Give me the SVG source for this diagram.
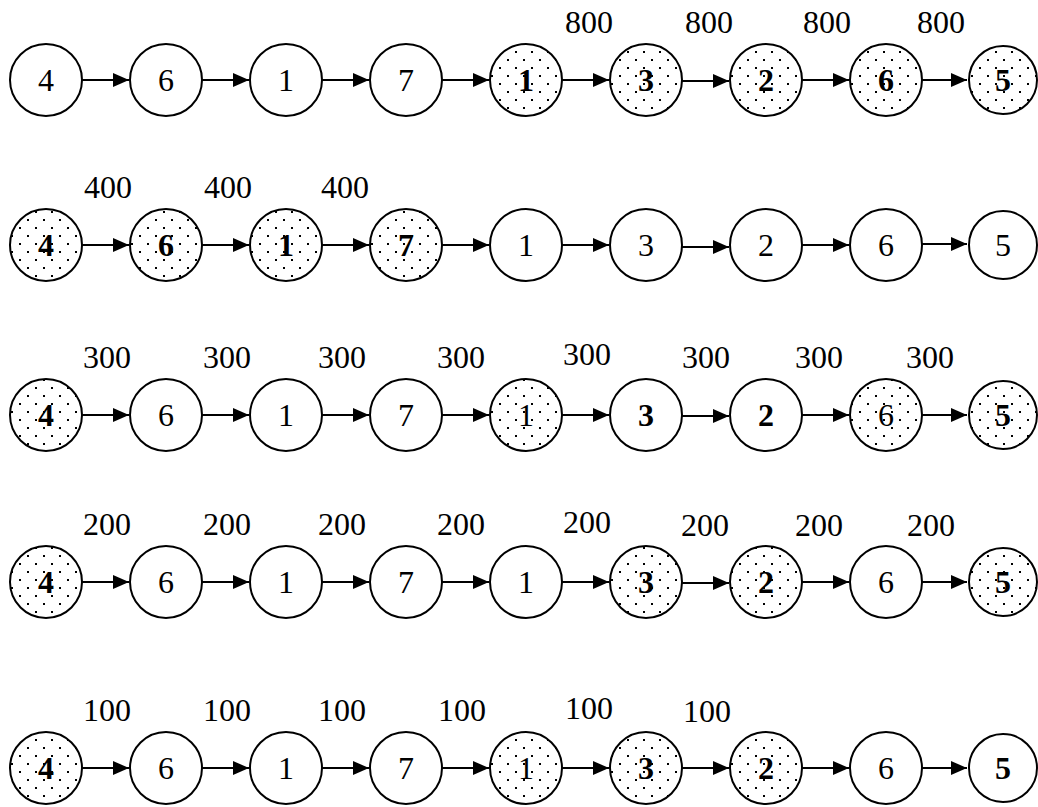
<svg xmlns="http://www.w3.org/2000/svg" width="1038" height="807" viewBox="0 0 1038 807">
<style>
.p{fill:#fff;stroke:#000;stroke-width:2}
.d{fill:url(#dots);stroke:#000;stroke-width:2}
text{font-family:"Liberation Serif","Times New Roman",serif;font-size:32px;text-anchor:middle;fill:#000}
.b{font-weight:bold}
.e{stroke:#000;stroke-width:2.2;fill:none;marker-end:url(#ah)}
</style>
<defs>
<pattern id="dots" patternUnits="userSpaceOnUse" width="16" height="16">
<rect width="16" height="16" fill="#fff"/>
<rect x="3" y="3" width="2" height="2" fill="#000"/>
<rect x="11" y="11" width="2" height="2" fill="#000"/>
</pattern>
<marker id="ah" markerUnits="userSpaceOnUse" markerWidth="18" markerHeight="16" refX="16" refY="7" orient="auto">
<path d="M0,0 L16,7 L0,14 Z" fill="#000"/>
</marker>
</defs>
<g id="labels">
<text x="589" y="33">800</text><text x="709" y="33">800</text><text x="827" y="33">800</text><text x="941" y="33">800</text>
<text x="108" y="198">400</text><text x="228" y="198">400</text><text x="345" y="198">400</text>
<text x="107" y="368">300</text><text x="227" y="368">300</text><text x="342" y="368">300</text><text x="461" y="368">300</text><text x="587" y="365">300</text><text x="706" y="368">300</text><text x="819" y="368">300</text><text x="930" y="368">300</text>
<text x="107" y="535">200</text><text x="227" y="535">200</text><text x="342" y="535">200</text><text x="461" y="535">200</text><text x="587" y="533">200</text><text x="705" y="536">200</text><text x="819" y="536">200</text><text x="931" y="536">200</text>
<text x="107" y="721">100</text><text x="227" y="721">100</text><text x="342" y="721">100</text><text x="462" y="721">100</text><text x="589" y="719">100</text><text x="707" y="722">100</text>
</g>
<g id="connectors">
<path class="e" d="M82,80H129"/><path class="e" d="M202,80H249"/><path class="e" d="M322,80H369"/><path class="e" d="M442,80H489"/><path class="e" d="M562,80H609"/><path class="e" d="M682,81H729"/><path class="e" d="M802,80H849"/><path class="e" d="M922,80H967"/>
<path class="e" d="M82,245H129"/><path class="e" d="M202,245H249"/><path class="e" d="M322,245H369"/><path class="e" d="M442,245H489"/><path class="e" d="M562,245H609"/><path class="e" d="M682,247H729"/><path class="e" d="M802,245H849"/><path class="e" d="M922,244H967"/>
<path class="e" d="M82,415H129"/><path class="e" d="M202,415H249"/><path class="e" d="M322,415H369"/><path class="e" d="M442,415H489"/><path class="e" d="M562,415H609"/><path class="e" d="M682,416H729"/><path class="e" d="M802,415H849"/><path class="e" d="M922,415H967"/>
<path class="e" d="M82,582H129"/><path class="e" d="M202,582H249"/><path class="e" d="M322,582H369"/><path class="e" d="M442,582H489"/><path class="e" d="M562,582H609"/><path class="e" d="M682,583H729"/><path class="e" d="M802,582H849"/><path class="e" d="M922,582H967"/>
<path class="e" d="M82,768H129"/><path class="e" d="M202,768H249"/><path class="e" d="M322,768H369"/><path class="e" d="M442,768H489"/><path class="e" d="M562,768H609"/><path class="e" d="M682,768H729"/><path class="e" d="M802,768H849"/><path class="e" d="M922,768H967"/>
</g>
<g id="r1n1"><circle class="p" cx="46" cy="80" r="36"/><text x="46" y="91">4</text></g>
<g id="r1n2"><circle class="p" cx="166" cy="80" r="36"/><text x="166" y="91">6</text></g>
<g id="r1n3"><circle class="p" cx="286" cy="80" r="36"/><text x="286" y="91">1</text></g>
<g id="r1n4"><circle class="p" cx="406" cy="80" r="36"/><text x="406" y="91">7</text></g>
<g id="r1n5"><circle class="d" cx="526" cy="80" r="36"/><text class="b" x="526" y="91">1</text></g>
<g id="r1n6"><circle class="d" cx="646" cy="80" r="36"/><text class="b" x="646" y="91">3</text></g>
<g id="r1n7"><circle class="d" cx="766" cy="80" r="36"/><text class="b" x="766" y="91">2</text></g>
<g id="r1n8"><circle class="d" cx="886" cy="80" r="36"/><text class="b" x="886" y="91">6</text></g>
<g id="r1n9"><circle class="d" cx="1003" cy="80" r="34"/><text class="b" x="1003" y="91">5</text></g>
<g id="r2n1"><circle class="d" cx="46" cy="245" r="36"/><text class="b" x="46" y="256">4</text></g>
<g id="r2n2"><circle class="d" cx="166" cy="245" r="36"/><text class="b" x="166" y="256">6</text></g>
<g id="r2n3"><circle class="d" cx="286" cy="245" r="36"/><text class="b" x="286" y="256">1</text></g>
<g id="r2n4"><circle class="d" cx="406" cy="245" r="36"/><text class="b" x="406" y="256">7</text></g>
<g id="r2n5"><circle class="p" cx="526" cy="245" r="36"/><text x="526" y="256">1</text></g>
<g id="r2n6"><circle class="p" cx="646" cy="245" r="36"/><text x="646" y="256">3</text></g>
<g id="r2n7"><circle class="p" cx="766" cy="245" r="36"/><text x="766" y="256">2</text></g>
<g id="r2n8"><circle class="p" cx="886" cy="245" r="36"/><text x="886" y="256">6</text></g>
<g id="r2n9"><circle class="p" cx="1003" cy="245" r="34"/><text x="1003" y="256">5</text></g>
<g id="r3n1"><circle class="d" cx="46" cy="415" r="36"/><text class="b" x="46" y="426">4</text></g>
<g id="r3n2"><circle class="p" cx="166" cy="415" r="36"/><text x="166" y="426">6</text></g>
<g id="r3n3"><circle class="p" cx="286" cy="415" r="36"/><text x="286" y="426">1</text></g>
<g id="r3n4"><circle class="p" cx="406" cy="415" r="36"/><text x="406" y="426">7</text></g>
<g id="r3n5"><circle class="d" cx="526" cy="415" r="36"/><text x="526" y="426">1</text></g>
<g id="r3n6"><circle class="p" cx="646" cy="415" r="36"/><text class="b" x="646" y="426">3</text></g>
<g id="r3n7"><circle class="p" cx="766" cy="415" r="36"/><text class="b" x="766" y="426">2</text></g>
<g id="r3n8"><circle class="d" cx="886" cy="415" r="36"/><text x="886" y="426">6</text></g>
<g id="r3n9"><circle class="d" cx="1003" cy="415" r="34"/><text class="b" x="1003" y="426">5</text></g>
<g id="r4n1"><circle class="d" cx="46" cy="582" r="36"/><text class="b" x="46" y="593">4</text></g>
<g id="r4n2"><circle class="p" cx="166" cy="582" r="36"/><text x="166" y="593">6</text></g>
<g id="r4n3"><circle class="p" cx="286" cy="582" r="36"/><text x="286" y="593">1</text></g>
<g id="r4n4"><circle class="p" cx="406" cy="582" r="36"/><text x="406" y="593">7</text></g>
<g id="r4n5"><circle class="p" cx="526" cy="582" r="36"/><text x="526" y="593">1</text></g>
<g id="r4n6"><circle class="d" cx="646" cy="582" r="36"/><text class="b" x="646" y="593">3</text></g>
<g id="r4n7"><circle class="d" cx="766" cy="582" r="36"/><text class="b" x="766" y="593">2</text></g>
<g id="r4n8"><circle class="p" cx="886" cy="582" r="36"/><text x="886" y="593">6</text></g>
<g id="r4n9"><circle class="d" cx="1003" cy="582" r="34"/><text class="b" x="1003" y="593">5</text></g>
<g id="r5n1"><circle class="d" cx="46" cy="768" r="36"/><text class="b" x="46" y="779">4</text></g>
<g id="r5n2"><circle class="p" cx="166" cy="768" r="36"/><text x="166" y="779">6</text></g>
<g id="r5n3"><circle class="p" cx="286" cy="768" r="36"/><text x="286" y="779">1</text></g>
<g id="r5n4"><circle class="p" cx="406" cy="768" r="36"/><text x="406" y="779">7</text></g>
<g id="r5n5"><circle class="d" cx="526" cy="768" r="36"/><text x="526" y="779">1</text></g>
<g id="r5n6"><circle class="d" cx="646" cy="768" r="36"/><text class="b" x="646" y="779">3</text></g>
<g id="r5n7"><circle class="d" cx="766" cy="768" r="36"/><text class="b" x="766" y="779">2</text></g>
<g id="r5n8"><circle class="p" cx="886" cy="768" r="36"/><text x="886" y="779">6</text></g>
<g id="r5n9"><circle class="p" cx="1003" cy="768" r="34"/><text class="b" x="1003" y="779">5</text></g>
</svg>
